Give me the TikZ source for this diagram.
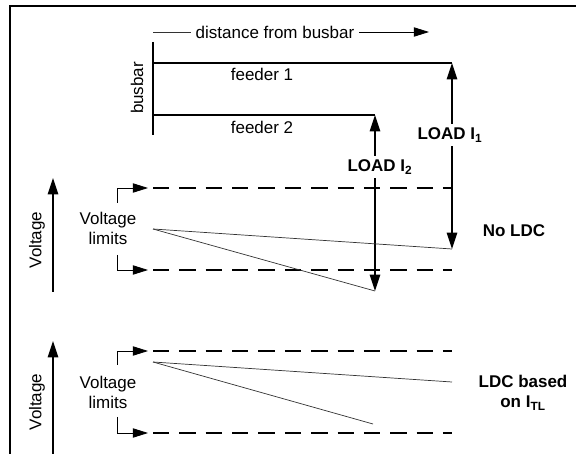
\documentclass[tikz,border=0pt]{standalone}
\usepackage{fontspec}
\setmainfont{Liberation Sans}
\usetikzlibrary{
  positioning,
  arrows.meta,
  calc
}

\begin{document}
\begin{tikzpicture}[
  x=0.03cm, y=-0.03cm,
  font=\fontsize{14.5}{17}\selectfont,
  arr/.style={-{Triangle[length=14pt, width=9pt]}, line width=1.1pt},
  sarr/.style={-{Triangle[length=13pt, width=8pt]}, line width=0.7pt},
  wire/.style={line width=1.7pt},
  limit/.style={line width=2.4pt, dash pattern=on 14pt off 8.5pt},
  prof/.style={line width=0.6pt, black!80},
  bold/.style={font=\fontsize{14.5}{17}\selectfont\bfseries},
]
  \useasboundingbox (0,0) rectangle (576,454);
  % frame
  \draw[line width=1.2pt] (576,6) -- (10,6) -- (10,454);

  % busbar and feeders
  \coordinate (bbtop) at (153,42);
  \coordinate (bbbot) at (153,135);
  \coordinate (f1a) at (153,63);
  \coordinate (f1b) at (452,63);
  \coordinate (f2a) at (153,115);
  \coordinate (f2b) at (375,115);
  \draw[wire] (bbtop) -- (bbbot);
  \draw[wire] (f1a) -- (f1b);
  \draw[wire] (f2a) -- (f2b);
  \node[rotate=90] (busbar) at (137,88) {busbar};
  \node (fd1) at (262,74) {feeder 1};
  \node (fd2) at (262,127) {feeder 2};

  \coordinate (d0) at (153,32);
  \coordinate (d1) at (429,32);
  \node[inner sep=4pt] (dist) at (275,32) {distance from busbar};
  \draw[prof] (d0) -- (dist);
  \draw[sarr] (dist) -- (d1);

  % loads
  \node[bold] (ld1) at (450,135) {LOAD I\textsubscript{1}};
  \node[bold] (ld2) at (380,167) {LOAD I\textsubscript{2}};
  \coordinate (v1) at (452,249);
  \coordinate (v2) at (375,291);
  \draw[arr] (ld1.north -| f1b) -- (f1b);
  \draw[arr] (ld1.south -| f1b) -- (v1);
  \draw[arr] (ld2.north -| f2b) -- (f2b);
  \draw[arr] (ld2.south -| f2b) -- (v2);

  % No LDC
  \coordinate (va0) at (53,292);
  \coordinate (va1) at (53,178);
  \draw[arr] (va0) -- (va1);
  \node[rotate=90] (vlt1) at (37,240) {Voltage};
  \node[align=center] (lim1) at (108,228) {Voltage\\limits};
  \coordinate (ua) at (117,203);
  \coordinate (ub) at (148,188);
  \coordinate (uc) at (153,188);
  \coordinate (ud) at (452,188);
  \coordinate (la) at (117,255);
  \coordinate (lb) at (148,270);
  \coordinate (lc) at (153,270);
  \coordinate (ld) at (452,270);
  \draw[sarr] (ua) |- (ub);
  \draw[sarr] (la) |- (lb);
  \draw[limit] (uc) -- (ud);
  \draw[limit] (lc) -- (ld);
  \coordinate (p1) at (153,229);
  \draw[prof] (p1) -- (v1);
  \draw[prof] (p1) -- (v2);
  \node[bold] (noldc) at (514,231) {No LDC};

  % LDC based on I_TL
  \coordinate (vb0) at (53,454);
  \coordinate (vb1) at (53,341);
  \draw[arr] (vb0) -- (vb1);
  \node[rotate=90] (vlt2) at (37,402) {Voltage};
  \node[align=center] (lim2) at (108,392) {Voltage\\limits};
  \coordinate (ua2) at (117,365);
  \coordinate (ub2) at (148,351);
  \coordinate (uc2) at (153,351);
  \coordinate (ud2) at (452,351);
  \coordinate (la2) at (117,417);
  \coordinate (lb2) at (148,433);
  \coordinate (lc2) at (153,433);
  \coordinate (ld2) at (452,433);
  \draw[sarr] (ua2) |- (ub2);
  \draw[sarr] (la2) |- (lb2);
  \draw[limit] (uc2) -- (ud2);
  \draw[limit] (lc2) -- (ld2);
  \coordinate (p2) at (153,362);
  \coordinate (q1) at (452,382);
  \coordinate (q2) at (373,424);
  \draw[prof] (p2) -- (q1);
  \draw[prof] (p2) -- (q2);
  \node[bold, align=center] (ldc) at (523,393) {LDC based\\on I\textsubscript{TL}};
\end{tikzpicture}
\end{document}
